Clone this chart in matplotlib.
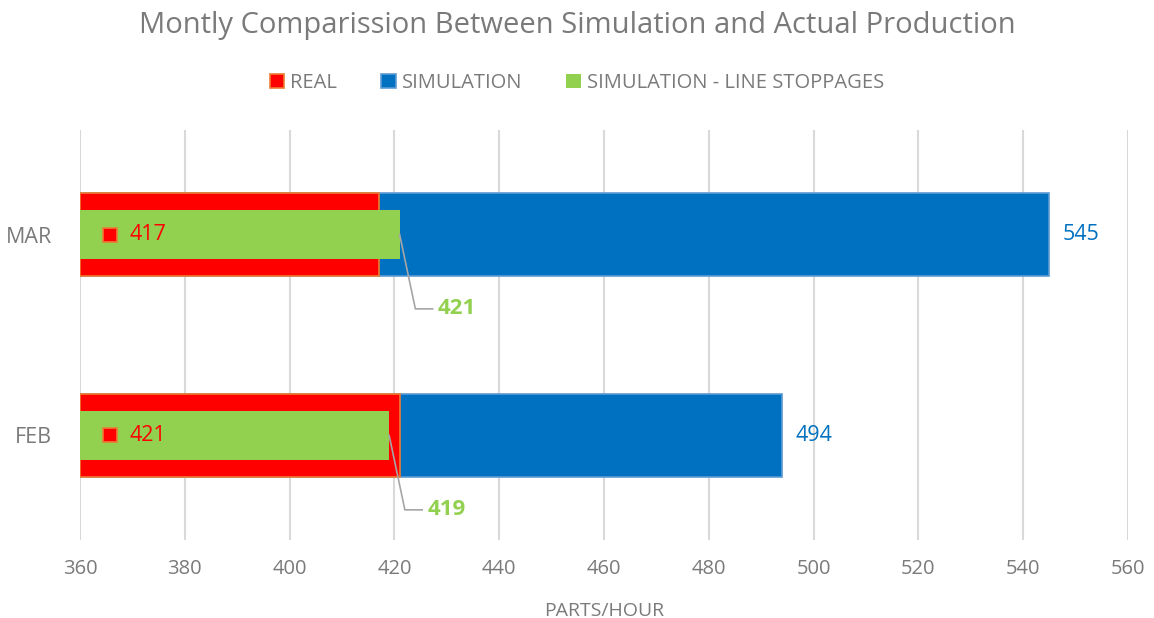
import matplotlib.pyplot as plt
from matplotlib.patches import Patch

plt.rcParams['font.family'] = ['Open Sans', 'DejaVu Sans']

# monthly throughput, parts per hour
months = ['FEB', 'MAR']
real = [421, 417]
simulation = [494, 545]
sim_stoppages = [419, 421]

x_start = 360
ticks = list(range(360, 561, 20))

RED, RED_EDGE = '#FF0000', '#ED7D31'
BLUE, BLUE_EDGE = '#0070C0', '#5B9BD5'
GREEN = '#92D050'
GREY = '#7A7A7A'

fig = plt.figure(figsize=(11.54, 6.18), dpi=100)
ax = fig.add_axes([80 / 1154, 78 / 618, 1048 / 1154, 410 / 618])

pos = list(range(len(months)))
wide, narrow = 0.41, 0.245

ax.barh(pos, [s - x_start for s in simulation], left=x_start, height=wide,
        color=BLUE, edgecolor=BLUE_EDGE, linewidth=1.2, zorder=2)
ax.barh(pos, [r - x_start for r in real], left=x_start, height=wide,
        color=RED, edgecolor=RED_EDGE, linewidth=1.2, zorder=3)
ax.barh(pos, [g - x_start for g in sim_stoppages], left=x_start, height=narrow,
        color=GREEN, edgecolor='none', zorder=4)

for y, r, s, g in zip(pos, real, simulation, sim_stoppages):
    # real value with its legend key inside the bar
    ax.plot(365.8, y, marker='s', ms=9.5, color=RED, mec=RED_EDGE, mew=1.2, zorder=5)
    ax.text(369.4, y, str(r), color=RED, fontsize=15.5, va='center', ha='left', zorder=5)
    # simulation value at the end of the blue bar
    ax.text(s + 2.6, y, str(s), color=BLUE, fontsize=15.5, va='center', ha='left')
    # stoppage value with leader line
    ex, ey = g + 3.0, y - 0.37
    ax.plot([g, ex, ex + 3.3], [y, ey, ey], color='#A6A6A6', lw=1.2, zorder=5)
    ax.text(ex + 4.3, ey, str(g), color=GREEN, fontsize=16, fontweight='bold',
            va='center', ha='left')

ax.set_xlim(360, 560)
ax.set_ylim(-0.52, 1.52)
ax.set_xticks(ticks)
ax.set_yticks(pos)
ax.set_yticklabels(months)
ax.tick_params(length=0, colors=GREY, labelsize=14.5)
ax.tick_params(axis='x', pad=14)
ax.tick_params(axis='y', labelsize=15.5, pad=20)
ax.grid(axis='x', color='#D9D9D9', lw=1.5, zorder=0)
ax.set_axisbelow(True)
for sp in ax.spines.values():
    sp.set_visible(False)

ax.set_xlabel('PARTS/HOUR', color=GREY, fontsize=14, labelpad=16)

fig.suptitle('Montly Comparission Between Simulation and Actual Production',
             color=GREY, fontsize=21, y=0.982)

handles = [
    Patch(facecolor=RED, edgecolor=RED_EDGE, lw=1.2, label='REAL'),
    Patch(facecolor=BLUE, edgecolor=BLUE_EDGE, lw=1.2, label='SIMULATION'),
    Patch(facecolor=GREEN, edgecolor='none', label='SIMULATION - LINE STOPPAGES'),
]
leg = fig.legend(handles=handles, loc='center', bbox_to_anchor=(0.5, 1 - 83 / 618),
                 ncol=3, frameon=False, fontsize=14.5, handlelength=0.7,
                 handleheight=0.7, handletextpad=0.3, columnspacing=2.2)
for t in leg.get_texts():
    t.set_color(GREY)

fig.savefig('out.png', dpi=100)
